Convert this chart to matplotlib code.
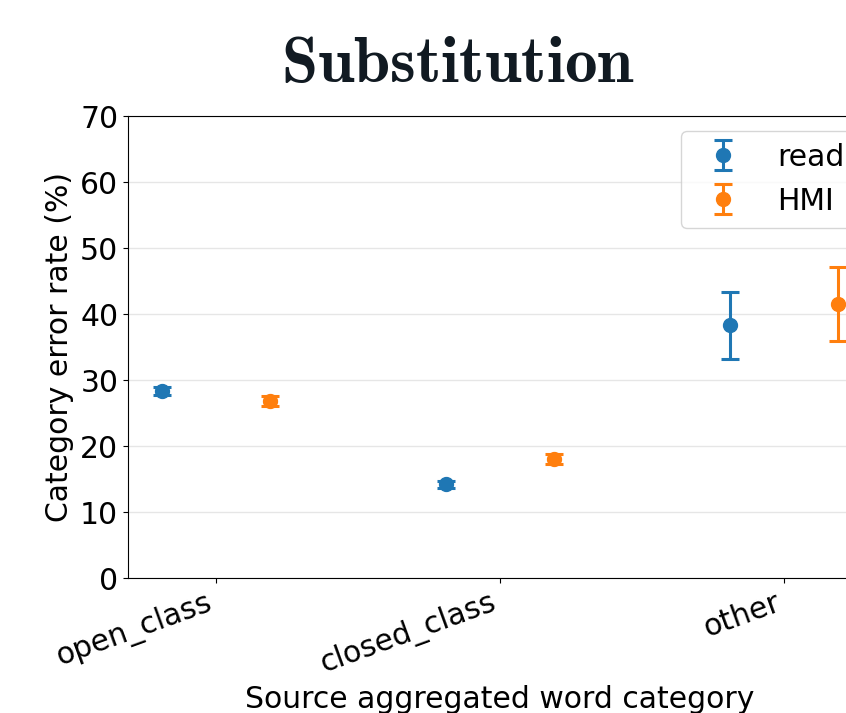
import matplotlib
matplotlib.use("Agg")
import matplotlib.pyplot as plt
import numpy as np

categories = ["open_class", "closed_class", "other"]
series_names = ["read", "HMI"]
read_vals = [28.4, 14.2, 38.3]
read_err = [0.6, 0.5, 5.1]
hmi_vals = [26.8, 18.0, 41.5]
hmi_err = [0.8, 0.8, 5.6]
colors = ["#1f77b4", "#ff7f0e"]

plt.rcParams['mathtext.fontset'] = 'cm'

fig = plt.figure(figsize=(8.46, 7.13), dpi=100)
ax = fig.add_axes([128/846, 1-578/713, (872-128)/846, (578-116)/713])

x = np.arange(len(categories))
off = 0.19
for vals, errs, c, name, sgn in [(read_vals, read_err, colors[0], series_names[0], -1),
                                  (hmi_vals, hmi_err, colors[1], series_names[1], 1)]:
    ax.errorbar(x + sgn*off, vals, yerr=errs, fmt='o', color=c, markersize=10,
                capsize=6.5, elinewidth=2.2, capthick=2.2, label=name)

fs = 21.5
ax.set_xlim(-0.31, 2.31)
ax.set_ylim(0, 70)
ax.set_yticks(np.arange(0, 71, 10))
ax.set_xticks(x)
ax.set_xticklabels(categories, rotation=20, ha='right', fontsize=fs)
ax.tick_params(axis='y', labelsize=fs)
ax.grid(axis='y', color='#e6e6e6', linewidth=1)
ax.set_axisbelow(True)
ax.set_ylabel("Category error rate (%)", fontsize=fs)
ax.set_xlabel("Source aggregated word category", fontsize=fs)
ax.legend(loc='upper right', bbox_to_anchor=(1 - 1/744, 1), fontsize=fs,
          borderpad=0.4, handletextpad=0.8, handlelength=2.0)
fig.text(0.541, 1-64/713, r'$\mathbf{Substitution}$', ha='center', va='center', fontsize=47, color='#111a22')

fig.savefig("out.png", dpi=100)
